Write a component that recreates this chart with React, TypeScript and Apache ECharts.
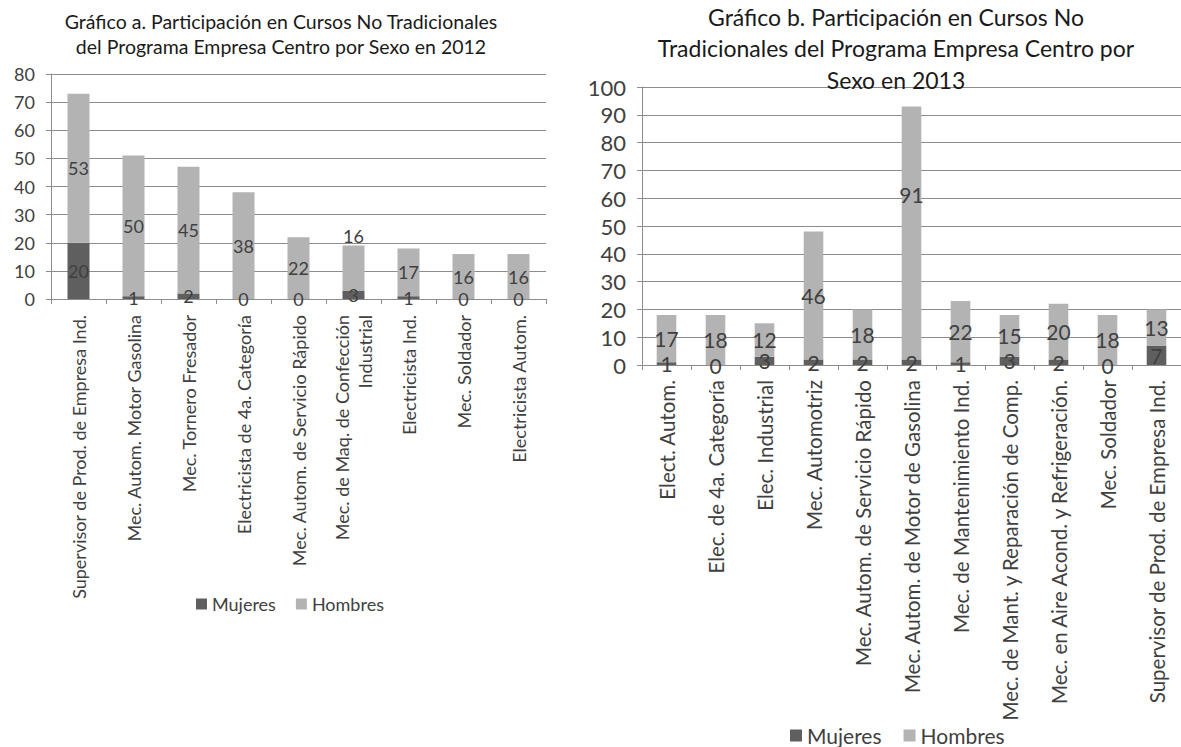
import React, { useEffect, useRef } from "react";
import * as echarts from "echarts";

const titleA = "Gráfico a. Participación en Cursos No Tradicionales\ndel Programa Empresa Centro por Sexo en 2012";
const titleB = "Gráfico b. Participación en Cursos No\nTradicionales del Programa Empresa Centro por\nSexo en 2013";

const categoriesA = [
  "Supervisor de Prod. de Empresa Ind.",
  "Mec. Autom. Motor Gasolina",
  "Mec. Tornero Fresador",
  "Electricista de 4a. Categoría",
  "Mec. Autom. de Servicio Rápido",
  "Mec. de Maq. de Confección\nIndustrial",
  "Electricista Ind.",
  "Mec. Soldador",
  "Electricista Autom.",
];
const mujeresA = [20, 1, 2, 0, 0, 3, 1, 0, 0];
const hombresA = [53, 50, 45, 38, 22, 16, 17, 16, 16];

const categoriesB = [
  "Elect. Autom.",
  "Elec. de 4a. Categoría",
  "Elec. Industrial",
  "Mec. Automotriz",
  "Mec. Autom. de Servicio Rápido",
  "Mec. Autom. de Motor de Gasolina",
  "Mec. de Mantenimiento Ind.",
  "Mec. de Mant. y Reparación de Comp.",
  "Mec. en Aire Acond. y Refrigeración.",
  "Mec. Soldador",
  "Supervisor de Prod. de Empresa Ind.",
];
const mujeresB = [1, 0, 3, 2, 2, 2, 1, 3, 2, 0, 7];
const hombresB = [17, 18, 12, 46, 18, 91, 22, 15, 20, 18, 13];

const seriesNames = ["Mujeres", "Hombres"];

const FONT = "Lato, 'Open Sans', sans-serif";
const TEXT = "#404040";
const DARK = "#5f5f5f";
const LIGHT = "#b3b3b3";
const GRID = "#8c8c8c";

export default function App() {
  const ref = useRef<HTMLDivElement>(null);

  useEffect(() => {
    if (!ref.current) return;
    const chart = echarts.init(ref.current, undefined, { renderer: "svg" });

    const xAxisBase = (idx: number, cats: string[], fs: number, margin: number) => ({
      type: "category",
      gridIndex: idx,
      data: cats,
      axisLine: { show: true, lineStyle: { color: GRID, width: 1 } },
      axisTick: { show: true, length: 5, lineStyle: { color: GRID } },
      axisLabel: {
        interval: 0,
        rotate: 90,
        margin,
        fontSize: fs,
        fontFamily: FONT,
        color: TEXT,
        lineHeight: fs * 1.25,
      },
    });

    const yAxisBase = (idx: number, max: number, fs: number) => ({
      type: "value",
      gridIndex: idx,
      min: 0,
      max,
      interval: 10,
      axisLine: { show: true, lineStyle: { color: GRID, width: 1 } },
      axisTick: { show: true, length: 5, lineStyle: { color: GRID } },
      splitLine: { show: true, lineStyle: { color: GRID, width: 1 } },
      axisLabel: { fontSize: fs, fontFamily: FONT, color: TEXT, margin: 16 },
    });

    const lbl = (fs: number) => ({
      show: true,
      position: "inside",
      fontSize: fs,
      fontFamily: FONT,
      color: TEXT,
    });

    const hombresAData = hombresA.map((v, i) =>
      i === 5 ? { value: v, label: { position: "top", distance: 1 } } : v
    );
    const hombresBData = hombresB.map((v, i) =>
      i === 5 ? { value: v, label: { offset: [0, -38] } } : v
    );

    const option = {
      animation: false,
      textStyle: { fontFamily: FONT },
      title: [
        {
          text: titleA,
          left: 281,
          top: 9,
          padding: 0,
          textAlign: "center",
          textStyle: { fontSize: 19.5, fontWeight: "normal", color: "#1a1a1a", fontFamily: FONT, lineHeight: 25 },
        },
        {
          text: titleB,
          left: 896,
          top: 1,
          padding: 0,
          textAlign: "center",
          textStyle: { fontSize: 23, fontWeight: "normal", color: "#1a1a1a", fontFamily: FONT, lineHeight: 31.5 },
        },
      ],
      legend: [
        {
          data: seriesNames,
          left: 196,
          top: 595,
          padding: 0,
          itemWidth: 11,
          itemHeight: 11,
          itemGap: 20,
          icon: "rect",
          textStyle: { fontSize: 18, color: TEXT, fontFamily: FONT },
          selectedMode: false,
        },
        {
          data: seriesNames,
          left: 790,
          top: 725,
          padding: 0,
          itemWidth: 12,
          itemHeight: 12,
          itemGap: 22,
          icon: "rect",
          textStyle: { fontSize: 21, color: TEXT, fontFamily: FONT },
          selectedMode: false,
        },
      ],
      grid: [
        { left: 51, top: 74, width: 495, height: 225, containLabel: false },
        { left: 642, top: 87, width: 550, height: 278, containLabel: false },
      ],
      xAxis: [xAxisBase(0, categoriesA, 18, 16), xAxisBase(1, categoriesB, 20.5, 15)],
      yAxis: [yAxisBase(0, 80, 18), yAxisBase(1, 100, 22)],
      series: [
        {
          name: seriesNames[0],
          type: "bar",
          stack: "a",
          xAxisIndex: 0,
          yAxisIndex: 0,
          barWidth: "40%",
          itemStyle: { color: DARK },
          label: lbl(18),
          data: mujeresA,
        },
        {
          name: seriesNames[1],
          type: "bar",
          stack: "a",
          xAxisIndex: 0,
          yAxisIndex: 0,
          barWidth: "40%",
          itemStyle: { color: LIGHT },
          label: lbl(18),
          data: hombresAData,
        },
        {
          name: seriesNames[0],
          type: "bar",
          stack: "b",
          xAxisIndex: 1,
          yAxisIndex: 1,
          barWidth: "40%",
          itemStyle: { color: DARK },
          label: lbl(21),
          data: mujeresB,
        },
        {
          name: seriesNames[1],
          type: "bar",
          stack: "b",
          xAxisIndex: 1,
          yAxisIndex: 1,
          barWidth: "40%",
          itemStyle: { color: LIGHT },
          label: lbl(21),
          data: hombresBData,
        },
      ],
    };

    chart.setOption(option as any);
    return () => chart.dispose();
  }, []);

  return (
    <div
      ref={ref}
      style={{ position: "fixed", left: 0, top: 0, width: 1181, height: 747, background: "#fff" }}
    />
  );
}
